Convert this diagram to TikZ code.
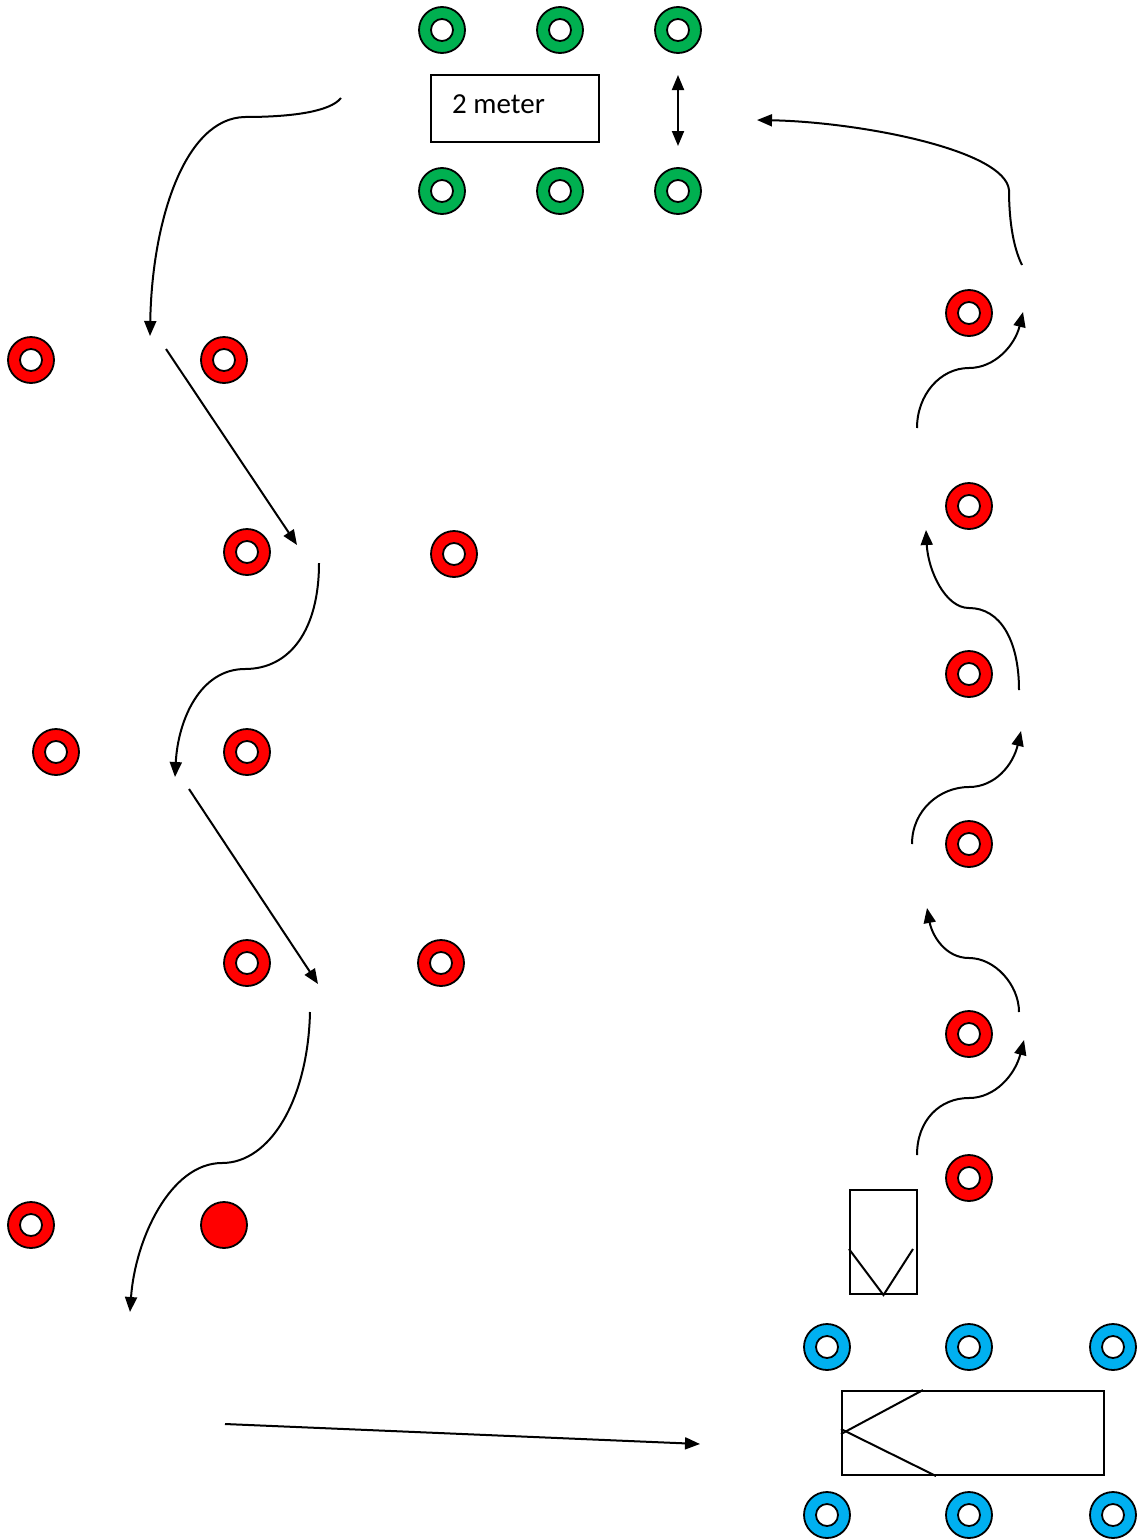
\documentclass[tikz,border=0pt]{standalone}
\usepackage{fontspec}
\setmainfont{Carlito}
\usetikzlibrary{arrows.meta,positioning,calc}
\definecolor{conegreen}{HTML}{00B050}
\definecolor{conered}{HTML}{FF0000}
\definecolor{coneblue}{HTML}{00B0F0}
\tikzset{
  cone/.style={circle, draw=black, line width=1.8pt, minimum size=46pt, inner sep=0pt,
    path picture={\draw[line width=1.8pt, fill=white]
      (path picture bounding box.center) circle (11pt);}},
  dot/.style={circle, draw=black, line width=1.8pt, minimum size=46pt, inner sep=0pt,
    fill=conered},
  frame/.style={draw=black, line width=2pt, inner sep=0pt},
  flow/.style={-{Triangle[length=15pt,width=12pt]}, line width=2pt},
  flowtwo/.style={{Triangle[length=15pt,width=12pt]}-{Triangle[length=15pt,width=12pt]},
    line width=2pt},
  lbl/.style={font=\fontsize{29}{35}\selectfont, inner sep=0pt, anchor=west},
}
\begin{document}
\begin{tikzpicture}[x=1pt,y=-1pt]
  \useasboundingbox (0,0) rectangle (1137,1539);
  % green cones and the 2 meter zone
  \foreach \n/\x/\y in {g1/442/30, g2/560/30, g3/678/30, g4/442/191, g5/560/191, g6/678/191}
    \node[cone, fill=conegreen] (\n) at (\x,\y) {};
  \node[frame, minimum width=168pt, minimum height=67pt] (meterbox) at (515,108.5) {};
  \node[lbl] (metertext) at (452,104) {2 meter};
  \coordinate (up) at (678,75);
  \coordinate (down) at (678,146);
  \draw[flowtwo] (up) -- (down);
  % red slalom, left side
  \foreach \n/\x/\y in {r1/31/360, r2/224/360, r3/247/552, r4/454/554, r5/56/752,
      r6/247/752, r7/247/963, r8/441/963, r9/31/1225}
    \node[cone, fill=conered] (\n) at (\x,\y) {};
  \node[dot] (r10) at (224,1225) {};
  % red cones, right side
  \foreach \n/\y in {q1/313, q2/506, q3/674, q4/844, q5/1034, q6/1178}
    \node[cone, fill=conered] (\n) at (969,\y) {};
  % blue cones
  \foreach \n/\x/\y in {b1/827/1347, b2/969/1347, b3/1113/1347, b4/827/1515, b5/969/1515, b6/1113/1515}
    \node[cone, fill=coneblue] (\n) at (\x,\y) {};
  % small goal and big goal
  \node[frame, minimum width=67pt, minimum height=104pt] (gate) at (883.5,1242) {};
  \draw[line width=2pt] ([yshift=46pt]gate.south west) -- (gate.south)
    -- ([xshift=-5pt,yshift=46pt]gate.south east);
  \node[frame, minimum width=262pt, minimum height=84pt] (net) at (973,1433) {};
  \draw[line width=2pt] ([xshift=82pt]net.north west) -- ([yshift=-44pt]net.north west);
  \draw[line width=2pt] ([yshift=-39pt]net.north west) -- ([xshift=95pt]net.south west);
  % run, left side
  \coordinate (s1) at (341,98);   \coordinate (e1) at (150,336);
  \coordinate (s2) at (166,349);  \coordinate (e2) at (297,545);
  \coordinate (s3) at (319,563);  \coordinate (e3) at (175,777);
  \coordinate (s4) at (189,789);  \coordinate (e4) at (318,984);
  \coordinate (s5) at (310,1012); \coordinate (e5) at (130,1312);
  \coordinate (s6) at (225,1424); \coordinate (e6) at (700,1444);
  \draw[flow] (s1) .. controls (330,112) and (290,117) .. (245,117)
    .. controls (185,118) and (152,220) .. (e1);
  \draw[flow] (s2) -- (e2);
  \draw[flow] (s3) .. controls (319,630) and (290,669) .. (245,669)
    .. controls (200,669) and (178,720) .. (e3);
  \draw[flow] (s4) -- (e4);
  \draw[flow] (s5) .. controls (308,1100) and (270,1163) .. (222,1163)
    .. controls (170,1163) and (135,1240) .. (e5);
  \draw[flow] (s6) -- (e6);
  % run, right side
  \coordinate (t1) at (917,1155); \coordinate (f1) at (1024,1040);
  \coordinate (t2) at (1019,1012); \coordinate (f2) at (927,908);
  \coordinate (t3) at (912,844);  \coordinate (f3) at (1021,731);
  \coordinate (t4) at (1019,690); \coordinate (f4) at (926,530);
  \coordinate (t5) at (917,428);  \coordinate (f5) at (1023,312);
  \coordinate (t6) at (1022,265); \coordinate (f6) at (757,120);
  \draw[flow] (t1) .. controls (917,1120) and (940,1098) .. (969,1098)
    .. controls (995,1098) and (1015,1075) .. (f1);
  \draw[flow] (t2) .. controls (1019,985) and (995,958) .. (969,958)
    .. controls (945,958) and (932,935) .. (f2);
  \draw[flow] (t3) .. controls (912,810) and (940,787) .. (969,787)
    .. controls (995,787) and (1013,765) .. (f3);
  \draw[flow] (t4) .. controls (1019,640) and (1000,608) .. (969,608)
    .. controls (945,608) and (928,570) .. (f4);
  \draw[flow] (t5) .. controls (917,395) and (940,368) .. (969,368)
    .. controls (995,368) and (1015,345) .. (f5);
  \draw[flow] (t6) .. controls (1012,245) and (1009,215) .. (1009,190)
    .. controls (1005,150) and (860,122) .. (f6);
\end{tikzpicture}
\end{document}
